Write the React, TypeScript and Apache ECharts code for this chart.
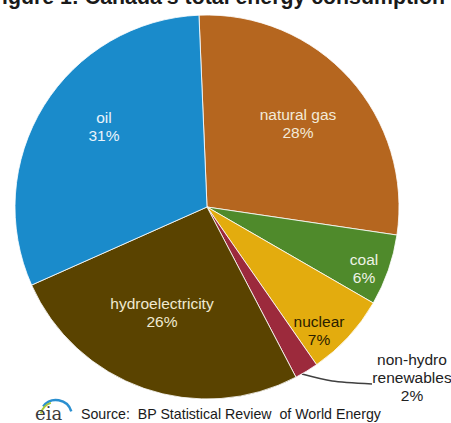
import React, { useEffect, useRef } from "react";
import * as echarts from "echarts";

const categories = ["natural gas", "coal", "nuclear", "non-hydro\nrenewables", "hydroelectricity", "oil"];
const shares = [28, 6, 7, 2, 26, 31];
const colors = ["#b5661f", "#4f8a2b", "#e3ac0e", "#9c2a3c", "#5a4300", "#1a8bcb"];
const labelColors = ["#f3ead8", "#eef3e6", "#2a2000", "#222222", "#f0ead0", "#eaf4fb"];
const labelPos: [number, number][] = [[298, 123], [364, 268], [319, 330], [412, 377], [162, 312], [104, 126]];

const title = "Figure 1: Canada's total energy consumption by fuel, 2012";
const source = "Source:  BP Statistical Review  of World Energy";

export default function App() {
  const ref = useRef<HTMLDivElement>(null);
  useEffect(() => {
    const chart = echarts.init(ref.current!, undefined, { renderer: "svg" });
    chart.setOption({
      animation: false,
      backgroundColor: "#ffffff",
      series: [
        {
          type: "pie",
          center: [207, 207],
          radius: [0, 192],
          startAngle: 92.4,
          clockwise: true,
          avoidLabelOverlap: false,
          itemStyle: { borderColor: "#ffffff", borderWidth: 0.8 },
          data: categories.map((c, i) => ({
            name: c,
            value: shares[i],
            itemStyle: { color: colors[i] },
            label: {
              show: true,
              position: i === 3 ? "outside" : "inside",
              color: labelColors[i],
              formatter: "{b}\n{c}%",
              fontFamily: "Liberation Sans, Arial, sans-serif",
              fontSize: 15.5,
              lineHeight: 18,
              align: "center",
            },
            labelLine: {
              show: i === 3,
              smooth: 0.3,
              lineStyle: { color: "#404040", width: 1.6 },
            },
          })),
          labelLayout: (p: any) => {
            const pos = labelPos[p.dataIndex];
            const res: any = { x: pos[0], y: pos[1], align: "center", verticalAlign: "middle" };
            if (p.dataIndex === 3) {
              res.labelLinePoints = [[302, 374], [332, 382], [372, 384]];
            }
            return res;
          },
        },
      ],
      graphic: [
        {
          type: "text",
          left: -11,
          top: -14,
          style: {
            text: title,
            font: "bold 21.3px 'Liberation Sans', Arial, sans-serif",
            fill: "#1a1a1a",
          },
        },
        {
          type: "arc",
          shape: { cx: 56, cy: 416, r: 16, startAngle: -2.5, endAngle: -0.3 },
          style: { stroke: "#2a8fd0", lineWidth: 2.5, fill: "none" },
        },
        {
          type: "arc",
          shape: { cx: 56, cy: 418, r: 16, startAngle: -2.85, endAngle: -1.9 },
          style: { stroke: "#a8c83a", lineWidth: 2, fill: "none" },
        },
        {
          type: "text",
          left: 35,
          top: 404,
          style: {
            text: "eia",
            font: "18px 'DejaVu Serif', 'Liberation Serif', serif",
            fill: "#3c3c3c",
          },
        },
        {
          type: "text",
          left: 81,
          top: 407,
          style: {
            text: source,
            font: "14.2px 'Liberation Sans', Arial, sans-serif",
            fill: "#1a1a1a",
          },
        },
      ],
    });
    return () => chart.dispose();
  }, []);
  return (
    <div
      ref={ref}
      style={{ position: "fixed", left: 0, top: 0, width: 451, height: 423 }}
    />
  );
}
